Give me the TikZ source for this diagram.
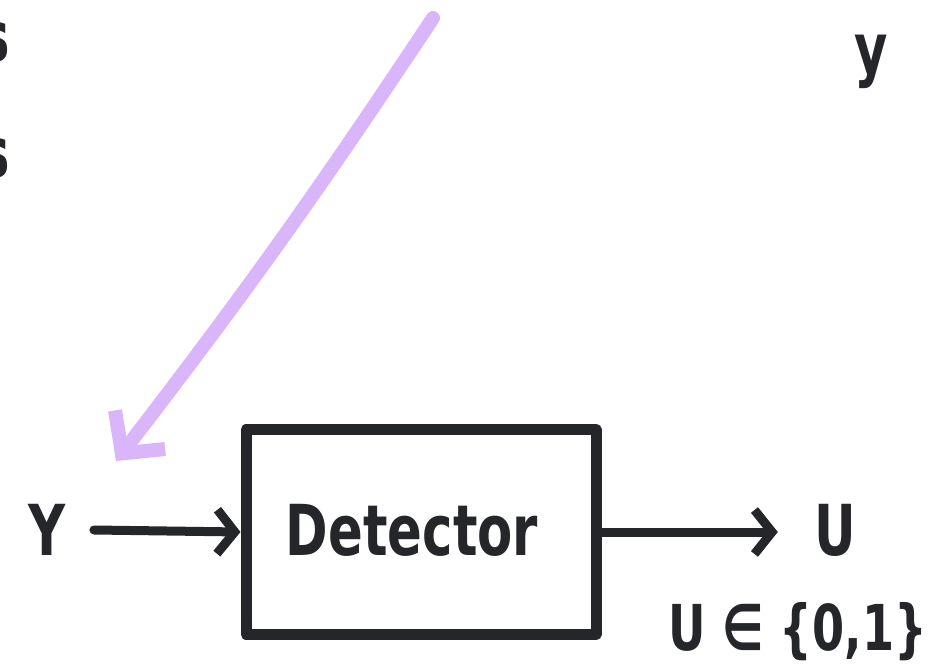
\documentclass[tikz,border=0pt]{standalone}
\usepackage{fontspec}
\usepackage{graphicx}
\setmainfont{DejaVu Sans}
\usetikzlibrary{arrows.meta}
\definecolor{lilac}{HTML}{D9B6F9}
\definecolor{ink}{HTML}{25262A}
\newcommand{\slim}[1]{\scalebox{0.73}[1]{#1}}
\tikzset{
	pen/.style={draw=ink, line width=9*0.02cm, line cap=round, line join=round},
	hand/.style={text=ink, inner sep=0pt, font=\fontsize{40}{44}\selectfont\bfseries},
	barb/.style={-{Straight Barb[length=10pt, width=25pt]}}
}
\begin{document}
\begin{tikzpicture}[x=0.02cm, y=-0.02cm]
				\useasboundingbox (0,0) rectangle (951,666);
				\node[hand](s1) at (-5,42){\slim{s}};
				\node[hand](s2) at (-5,158){\slim{s}};
				\node[hand](ytop) at (871,62){\slim{y}};
				\node[hand](yin) at (47,530){\slim{Y}};
				\node[pen, line width=11*0.02cm, minimum width=350*0.02cm, minimum height=205*0.02cm, inner sep=0pt](det) at (421,532){};
				\node[hand](dlabel) at (412,530){\slim{Detector}};
				\node[hand](uout) at (835,530){\slim{U}};
				\node[hand, font=\fontsize{36}{40}\selectfont\bfseries](uset) at (798,632){\slim{U ∈ \{0,1\}}};
				\coordinate(pstart) at (433,18);
				\coordinate(ptip) at (116,461);
				\draw[pen, barb](yin.east) ++(28,0) to (det.west);
				\draw[pen, barb, shorten >=36*0.02cm](det.east) to (uout.west |- det.east);
				\draw[pen, draw=lilac, line width=14*0.02cm, -{Straight Barb[length=17pt, width=36pt]}](pstart) to[bend left=2] (ptip);
			\end{tikzpicture}
\end{document}
